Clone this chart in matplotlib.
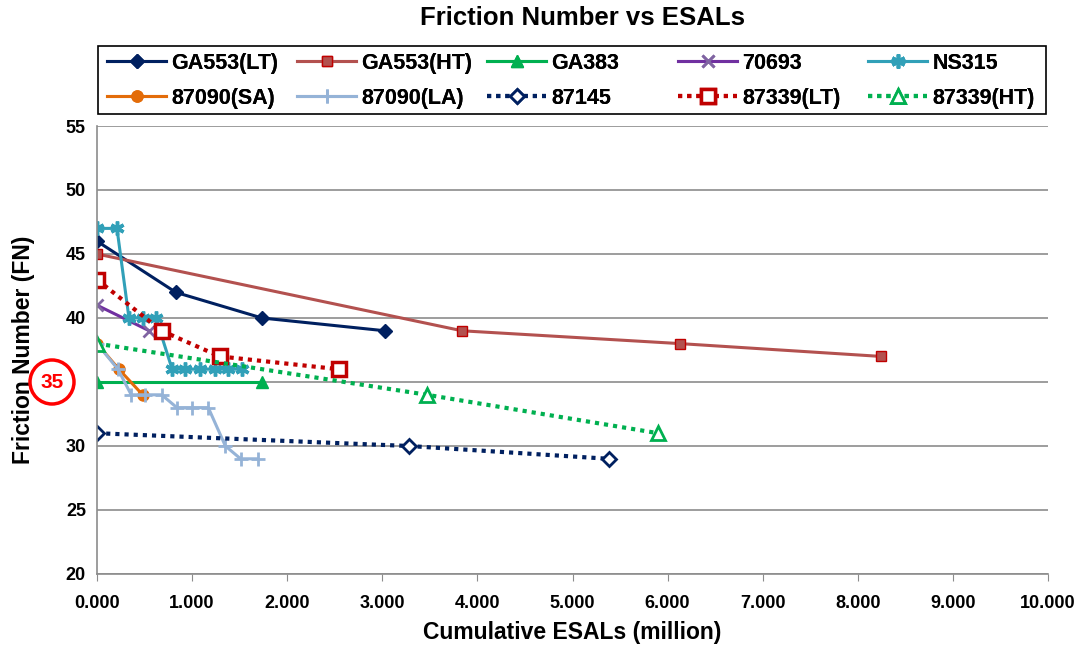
import numpy as np
import matplotlib.pyplot as plt
from matplotlib.patches import Ellipse, Rectangle

plt.rcParams['font.family'] = ['Liberation Sans', 'DejaVu Sans']
plt.rcParams['font.weight'] = 'bold'

# Cumulative ESALs (million) and friction numbers per section
ga553_lt_x = [0.0, 0.83, 1.735, 3.03]
ga553_lt_y = [46, 42, 40, 39]
ga553_ht_x = [0.0, 3.84, 6.13, 8.24]
ga553_ht_y = [45, 39, 38, 37]
ga383_x = [0.0, 1.735]
ga383_y = [35, 35]
s70693_x = [0.0, 0.55]
s70693_y = [41, 39]
ns315_x = [0.0, 0.21, 0.336, 0.483, 0.62, 0.79, 0.925, 1.08, 1.24, 1.38, 1.52]
ns315_y = [47, 47, 40, 40, 40, 36, 36, 36, 36, 36, 36]
s87090_sa_x = [0.0, 0.23, 0.48]
s87090_sa_y = [38, 36, 34]
s87090_la_x = [0.0, 0.22, 0.36, 0.50, 0.68, 0.84, 1.0, 1.17, 1.35, 1.51, 1.69]
s87090_la_y = [38, 36, 34, 34, 34, 33, 33, 33, 30, 29, 29]
s87145_x = [0.0, 3.28, 5.38]
s87145_y = [31, 30, 29]
s87339_lt_x = [0.0, 0.68, 1.29, 2.54]
s87339_lt_y = [43, 39, 37, 36]
s87339_ht_x = [0.0, 3.47, 5.9]
s87339_ht_y = [38, 34, 31]

W, H = 1083, 647
fig = plt.figure(figsize=(W/100, H/100), dpi=100)
ax = fig.add_axes([97/W, 1-574/H, (1048-97)/W, (574-126)/H])

lw = 2.2
dot = (0, (1, 1.2))
h = []
h += ax.plot(ga553_lt_x, ga553_lt_y, color='#002060', lw=lw, marker='D', ms=7, label='GA553(LT)')
h += ax.plot(ga553_ht_x, ga553_ht_y, color='#B3514F', lw=lw, marker='s', ms=7,
             mfc='#B3514F', mec='#C00000', label='GA553(HT)')
h += ax.plot(ga383_x, ga383_y, color='#00B050', lw=lw, marker='^', ms=9, label='GA383')
h += ax.plot(s70693_x, s70693_y, color='#7030A0', lw=lw, marker='x', ms=8, mew=2,
             mec='#8064A2', label='70693')
h += ax.plot(ns315_x, ns315_y, color='#31A0B8', lw=lw, marker=(6, 2, 0), ms=10, mew=2.5,
             label='NS315')
h += ax.plot(s87090_sa_x, s87090_sa_y, color='#E36C09', lw=lw, marker='o', ms=8,
             mfc='#E36C09', label='87090(SA)')
h += ax.plot(s87090_la_x, s87090_la_y, color='#95B3D7', lw=lw, marker='+', ms=10, mew=2,
             label='87090(LA)')
h += ax.plot(s87145_x, s87145_y, color='#002060', lw=3, ls=dot, marker='D', ms=7,
             mfc='white', mew=2, label='87145')
h += ax.plot(s87339_lt_x, s87339_lt_y, color='#C00000', lw=3, ls=dot, marker='s', ms=10,
             mfc='white', mew=2.5, label='87339(LT)')
h += ax.plot(s87339_ht_x, s87339_ht_y, color='#00B050', lw=3, ls=dot, marker='^', ms=10,
             mfc='white', mew=2, label='87339(HT)')

ax.set_xlim(0, 10)
ax.set_ylim(20, 55)
xt = np.arange(0, 11, 1)
ax.set_xticks(xt)
ax.set_xticklabels(['%.3f' % v for v in xt], fontsize=13, fontweight='bold')
yt = np.arange(20, 56, 5)
ax.set_yticks(yt)
ax.set_yticklabels([str(v) if v != 35 else '' for v in yt], fontsize=13, fontweight='bold')
ax.yaxis.grid(True, color='#8C8C8C', lw=1.2)
ax.set_axisbelow(True)
for s in ['top', 'right']:
    ax.spines[s].set_visible(False)
for s in ['left', 'bottom']:
    ax.spines[s].set_color('#8C8C8C')
    ax.spines[s].set_linewidth(1.2)
ax.tick_params(axis='y', length=0, pad=8)
ax.tick_params(axis='x', length=5, color='#8C8C8C', direction='out', pad=10)

ax.set_xlabel('Cumulative ESALs (million)', fontsize=16.5, fontweight='bold')
ax.xaxis.set_label_coords(0.5, -(621-574)/448)
ax.set_ylabel('Friction Number (FN)', fontsize=16.5, fontweight='bold')
ax.yaxis.set_label_coords((35-97)/951, 0.5)
fig.text(582/W, 1-18/H, 'Friction Number vs ESALs', ha='center', va='center',
         fontsize=18.5, fontweight='bold')

# highlighted 35 level on the y axis
fig.text(52/W, 1-382/H, '35', ha='center', va='center', color='#FF0000',
         fontsize=15, fontweight='bold')
fig.patches.append(Ellipse((52/W, 1-382/H), 44/W, 44/H, transform=fig.transFigure,
                           fill=False, ec='#FF0000', lw=2.5))

# legend: five equal-width columns inside one frame
fig.patches.append(Rectangle((98/W, 1-114/H), (1046-98)/W, (114-46)/H,
                             transform=fig.transFigure, fill=False, ec='black', lw=1.2))
col_x = [107, 297, 487, 678, 868]
for j, x in enumerate(col_x):
    leg = fig.legend([h[j], h[j+5]], [h[j].get_label(), h[j+5].get_label()],
                     loc='upper left', bbox_to_anchor=(x/W, 1-53/H),
                     fontsize=15.5, frameon=False, handlelength=2.75,
                     handletextpad=0.25, borderaxespad=0, borderpad=0, labelspacing=0.64)
    for t in leg.get_texts():
        t.set_fontweight('bold')
    fig.add_artist(leg)

fig.savefig('out.png', dpi=100)
